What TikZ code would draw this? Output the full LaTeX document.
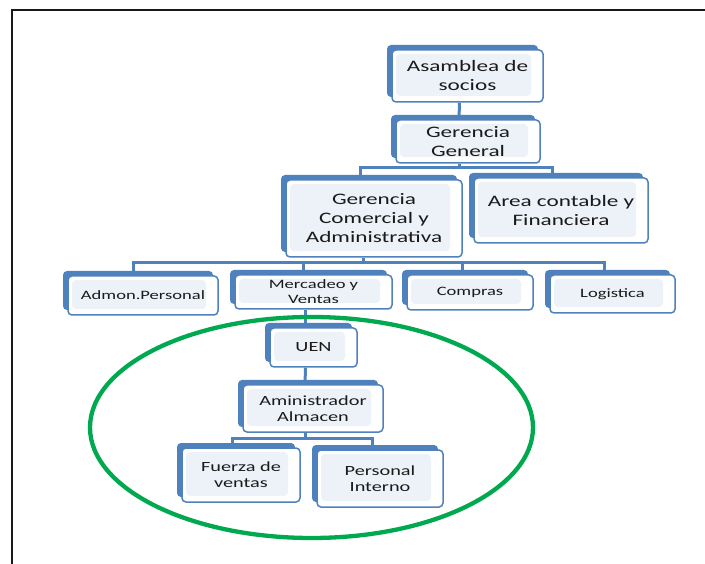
\documentclass[tikz,border=0pt]{standalone}
\usepackage{fontspec}
\setmainfont{Carlito}[FakeStretch=1.45]
\usepackage{tikz}
\usetikzlibrary{shapes.geometric,shadows,backgrounds}
\definecolor{boxblue}{HTML}{4F81BD}
\definecolor{boxlight}{HTML}{EDF2F9}
\definecolor{ovalgreen}{HTML}{00A94F}
\definecolor{txt}{HTML}{1A1A1A}
\tikzset{
  blk/.style    ={draw=boxblue, line width=1.5pt, fill=white, rounded corners=4pt, align=center, inner sep=0pt, text=txt,
                  general shadow={fill=boxblue, shadow xshift=-5pt, shadow yshift=5pt},
                  path picture={\fill[boxlight] ([xshift=4pt,yshift=-4pt]path picture bounding box.north west) rectangle ([xshift=-12pt,yshift=6pt]path picture bounding box.south east);}},
  bigblk/.style ={blk, font=\fontsize{16}{19}\selectfont},
  midblk/.style ={blk, font=\fontsize{14}{16}\selectfont},
  smlblk/.style ={blk, font=\fontsize{12.8}{15}\selectfont},
  conn/.style   ={draw=boxblue, line width=3pt},
  oval/.style   ={draw=ovalgreen, ellipse, line width=4.3pt, inner sep=0pt},
  frame/.style  ={draw=black!90, line width=2pt},
}
\begin{document}
\begin{tikzpicture}[x=1pt, y=-1pt]
  \useasboundingbox (0,0) rectangle (705,564);
  \draw[frame] (12,564) |- (705,10);

  \node[bigblk, minimum width=151pt, minimum height=52pt] (asam) at (467.5,76)  {Asamblea de\\socios};
  \node[bigblk, minimum width=144pt, minimum height=43pt] (gg)   at (468,141.5) {Gerencia\\General};
  \node[bigblk, minimum width=176pt, minimum height=77pt] (gcom) at (374,218.5) {Gerencia\\Comercial y\\Administrativa};
  \node[bigblk, minimum width=174pt, minimum height=65pt] (area) at (561,210.5) {Area contable y\\Financiera};

  \node[smlblk, minimum width=150pt, minimum height=39pt] (admon) at (143,295.5) {Admon.Personal};
  \node[smlblk, minimum width=157pt, minimum height=34pt] (merc)  at (313.5,292) {Mercadeo y\\Ventas};
  \node[smlblk, minimum width=126pt, minimum height=35pt] (comp)  at (470,292.5) {Compras};
  \node[smlblk, minimum width=125pt, minimum height=38pt] (logi)  at (612.5,294) {Logistica};

  \node[midblk, minimum width=87pt,  minimum height=39pt] (uen)  at (313.5,347.5) {UEN};
  \node[midblk, minimum width=140pt, minimum height=47pt] (amin) at (313,408.5)   {Aministrador\\Almacen};
  \node[midblk, minimum width=118pt, minimum height=54pt] (fuer) at (241,475)     {Fuerza de\\ventas};
  \node[midblk, minimum width=126pt, minimum height=57pt] (pers) at (380,478.5)   {Personal\\Interno};

  \node[oval, minimum width=443pt, minimum height=221pt] (zona) at (311.5,427.5) {};

  \begin{scope}[on background layer]
    \draw[conn] ([xshift=-8pt]asam.south) -- ([xshift=-9pt]gg.north);
    \draw[conn] ([xshift=-9pt]gg.south) -- ++(0,4) -| ([xshift=-14pt]gcom.north);
    \draw[conn] ([xshift=-9pt]gg.south) -- ++(0,4) -| ([xshift=-9pt]area.north);
    \draw[conn] ([xshift=-11pt]gcom.south) -- ++(0,5) -| ([xshift=-10pt]admon.north);
    \draw[conn] ([xshift=-11pt]gcom.south) -- ++(0,5) -| ([xshift=-10pt]merc.north);
    \draw[conn] ([xshift=-11pt]gcom.south) -- ++(0,5) -| ([xshift=-8pt]comp.north);
    \draw[conn] ([xshift=-11pt]gcom.south) -- ++(0,5) -| ([xshift=-8pt]logi.north);
    \draw[conn] ([xshift=-8pt]merc.south) -- ([xshift=-8pt]uen.north);
    \draw[conn] ([xshift=-8pt]uen.south) -- ([xshift=-8pt]amin.north);
    \draw[conn] ([xshift=-8pt]amin.south) -- ++(0,6) -| ([xshift=-9pt]fuer.north);
    \draw[conn] ([xshift=-8pt]amin.south) -- ++(0,6) -| ([xshift=-8pt]pers.north);
  \end{scope}
\end{tikzpicture}
\end{document}
